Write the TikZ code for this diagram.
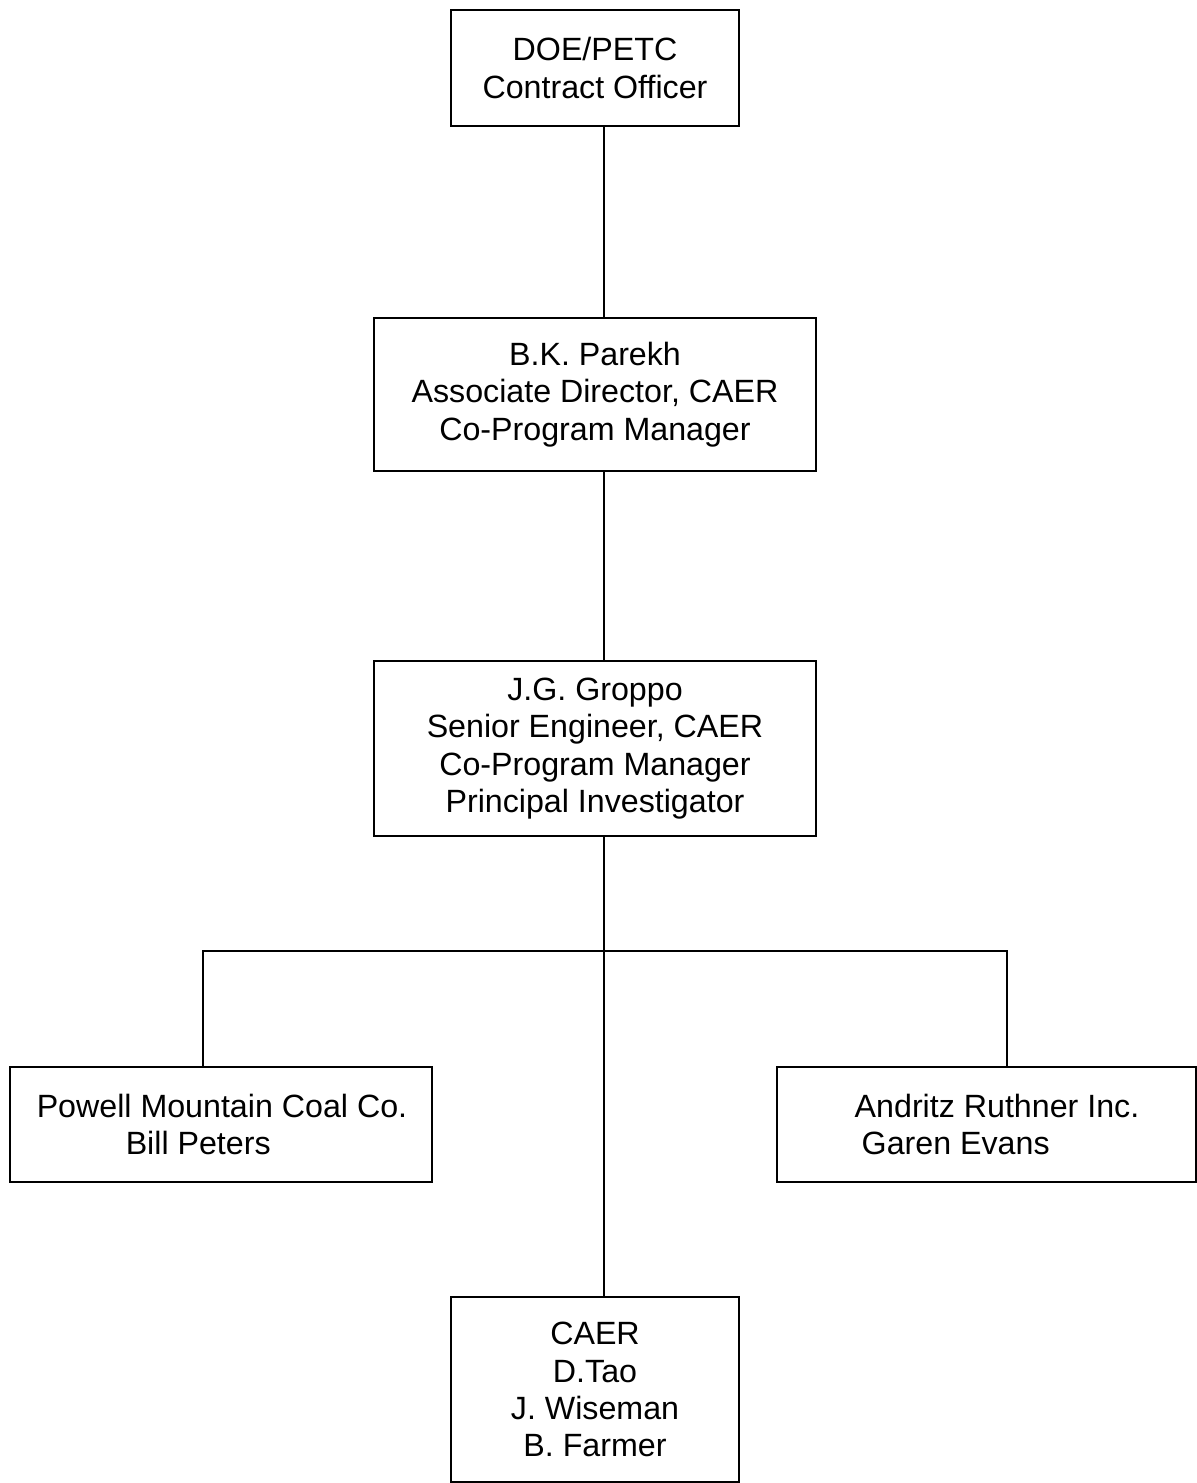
\documentclass[tikz,border=0pt]{standalone}
\usepackage{fontspec}
\setmainfont{Liberation Sans}
\begin{document}
\begin{tikzpicture}[x=0.5pt,y=-0.5pt,
  box/.style={draw=black, line width=0.7pt, rectangle, inner sep=0pt, align=center,
    font=\fontsize{16.1}{18.6}\selectfont},
  txt/.style={inner sep=0pt, font=\fontsize{16.1}{18.6}\selectfont},
  link/.style={draw=black, line width=0.7pt}]
\useasboundingbox (0,0) rectangle (1197,1483);
\coordinate (spine) at (604,0);
\node[box, minimum width=144pt, minimum height=58pt] (doe) at (595,68) {\raisebox{-2pt}{}DOE/PETC\\Contract Officer};
\node[box, minimum width=221pt, minimum height=76.5pt] (parekh) at (595,394.5) {B.K. Parekh\\Associate Director, CAER\\Co-Program Manager};
\node[box, minimum width=221pt, minimum height=87.5pt] (groppo) at (595,748.5) {J.G. Groppo\\Senior Engineer, CAER\\Co-Program Manager\\Principal Investigator};
\node[box, minimum width=211pt, minimum height=57.5pt] (powell) at (221,1124.5) {};
\node[txt, align=left] (powellT) at (222,1124.5) {Powell Mountain Coal Co.\\\hspace*{44.5pt}Bill Peters};
\node[box, minimum width=209.5pt, minimum height=57.5pt] (andritz) at (986.5,1124.5) {};
\node[txt, align=left] (andritzT) at (997,1124.5) {Andritz Ruthner Inc.\\\hspace*{3.5pt}Garen Evans};
\node[box, minimum width=144pt, minimum height=92.5pt] (caer) at (595,1389.5) {CAER\\D.Tao\\J. Wiseman\\B. Farmer};
\coordinate (bus) at (0,951);
\draw[link] (doe.south -| spine) -- (parekh.north -| spine);
\draw[link] (parekh.south -| spine) -- (groppo.north -| spine);
\draw[link] (groppo.south -| spine) -- (caer.north -| spine);
\draw[link] (powell.north -| 203,0) |- (bus -| spine) -| (andritz.north -| 1007,0);
\end{tikzpicture}
\end{document}
